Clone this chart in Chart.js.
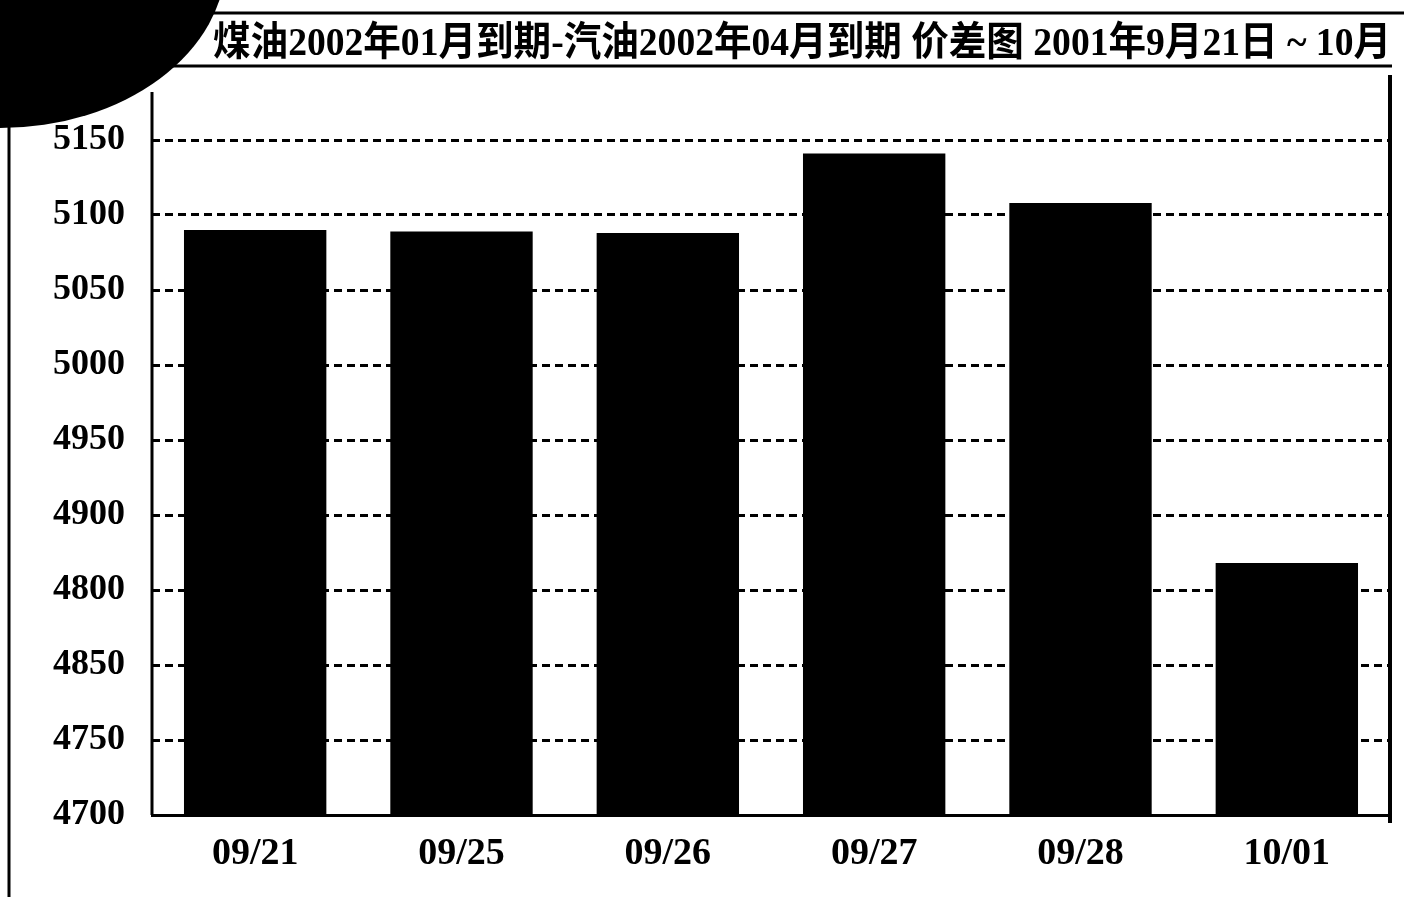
<!DOCTYPE html>
<html>
<head>
<meta charset="utf-8">
<script src="https://cdn.jsdelivr.net/npm/chart.js@4.4.0/dist/chart.umd.min.js"></script>
<style>
    html, body { margin:0; padding:0; background:#fff; }
    #wrap { position:relative; width:1404px; height:897px; }
</style>
</head>
<body>
<div id="wrap"><canvas id="spreadChart" width="1404" height="897"></canvas></div>
<script>
const titleText = '煤油2002年01月到期-汽油2002年04月到期 价差图 2001年9月21日 ~ 10月';
const dates = ['09/21', '09/25', '09/26', '09/27', '09/28', '10/01'];
const spread = [5090, 5089, 5088, 5141, 5108, 4868];
// 刻度标签照原图 (4800 / 4850 原图顺序如此)
const yTickLabels = ['4700', '4750', '4850', '4800', '4900', '4950', '5000', '5050', '5100', '5150', ''];

const serif = '"Liberation Serif", "Noto Sans CJK SC", serif';

// 标题框, 右边框, 扫描件边缘
const paperPlugin = {
    id: 'paper',
    afterDraw(chart) {
        const ctx = chart.ctx;
        const area = chart.chartArea;
        ctx.save();
        ctx.strokeStyle = '#000';
        ctx.fillStyle = '#000';

        ctx.lineWidth = 3;
        ctx.beginPath();
        ctx.moveTo(150, 13); ctx.lineTo(1404, 13);
        ctx.moveTo(140, area.top + 1); ctx.lineTo(area.right + 2, area.top + 1);
        ctx.moveTo(area.left, 92); ctx.lineTo(area.left, area.bottom);
        ctx.stroke();

        ctx.lineWidth = 4;
        ctx.beginPath();
        ctx.moveTo(area.right, area.top + 10); ctx.lineTo(area.right, area.bottom + 8);
        ctx.stroke();

        ctx.font = 'bold 40px ' + serif;
        ctx.textBaseline = 'middle';
        ctx.textAlign = 'left';
        let w = ctx.measureText(titleText).width;
        ctx.save();
        ctx.translate(213, 45);
        ctx.scale(1178 / w, 1);
        ctx.fillText(titleText, 0, 0);
        ctx.restore();

        // 左上角黑块和左侧纸边
        ctx.beginPath();
        ctx.ellipse(0, -40, 226, 168, 0, 0, Math.PI * 2);
        ctx.fill();
        ctx.lineWidth = 3;
        ctx.beginPath();
        ctx.moveTo(9, 120); ctx.lineTo(9, 897);
        ctx.stroke();
        ctx.restore();
    }
};

let spreadChart = new Chart(document.getElementById('spreadChart'), {
    type: 'bar',
    data: {
        labels: dates,
        datasets: [{
            label: '价差',
            data: spread,
            backgroundColor: '#000',
            borderWidth: 0,
            barPercentage: 0.69,
            categoryPercentage: 1.0
        }]
    },
    options: {
        responsive: false,
        animation: false,
        layout: { padding: { top: 65, right: 14, left: 0, bottom: 0 } },
        plugins: {
            legend: { display: false },
            title: { display: false },
            tooltip: { enabled: false }
        },
        scales: {
            x: {
                afterFit: function(s) { s.height = 82; },
                grid: { display: true, color: 'rgba(0,0,0,0)', drawTicks: false },
                border: { display: true, color: '#000', width: 3 },
                ticks: {
                    color: '#000',
                    padding: 16,
                    font: { family: serif, size: 38, weight: 'bold' }
                }
            },
            y: {
                min: 4700,
                max: 5200,
                afterFit: function(s) { s.width = 152; },
                grid: {
                    drawTicks: false,
                    lineWidth: 3,
                    color: function(c) {
                        return c.tick && c.tick.value >= 5200 ? 'rgba(0,0,0,0)' : '#000';
                    }
                },
                border: { display: false, dash: [8, 5] },
                ticks: {
                    stepSize: 50,
                    color: '#000',
                    padding: 27,
                    font: { family: serif, size: 36, weight: 'bold' },
                    callback: function(v, i) { return yTickLabels[i]; }
                }
            }
        }
    },
    plugins: [paperPlugin]
});
</script>
</body>
</html>
